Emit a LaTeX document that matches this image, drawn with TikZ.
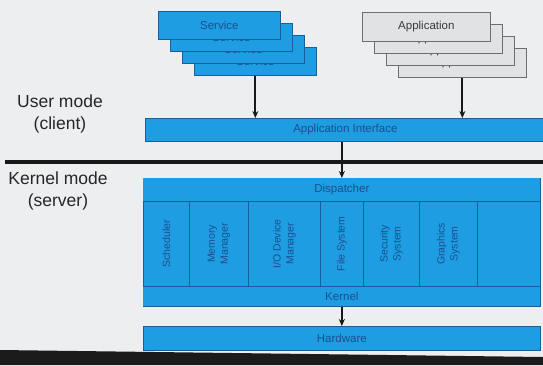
\documentclass[tikz,border=0pt]{standalone}
\usepackage{fontspec}
\setmainfont{Liberation Sans}
\usetikzlibrary{arrows.meta}
\definecolor{bg}{HTML}{EDEEEF}
\definecolor{blu}{HTML}{1E9DE3}
\definecolor{bluline}{HTML}{17609F}
\definecolor{blutext}{HTML}{1C4F8C}
\definecolor{grayfill}{HTML}{E1E2E4}
\definecolor{grayline}{HTML}{6E6E6E}
\definecolor{graytext}{HTML}{3A3A3A}
\definecolor{dark}{HTML}{1B1B1B}
\begin{document}
\begin{tikzpicture}[x=1pt,y=-1pt,
  boxfont/.style={font=\fontsize{11.5}{13}\selectfont},
  bluebox/.style={draw=bluline, fill=blu, line width=0.7pt, text=blutext, boxfont, inner sep=0pt, anchor=north west},
  graybox/.style={draw=grayline, fill=grayfill, line width=0.7pt, text=graytext, boxfont, inner sep=0pt, anchor=north west},
  modlabel/.style={rotate=90, text=blutext, align=center, font=\fontsize{10.5}{13}\selectfont, inner sep=0pt},
  modelabel/.style={align=center, font=\fontsize{17.5}{22}\selectfont, text=black!85},
  arr/.style={-{Stealth[length=7pt,width=6pt]}, line width=1.9pt, black!90}
]
% background and bounding box
\fill[bg] (0,0) rectangle (543,365);
\useasboundingbox (0,0) rectangle (543,365);
\fill[dark] (0,350) -- (543,357) -- (543,365) -- (0,365) -- cycle;

% Service stack (back to front)
\node[bluebox, minimum width=122pt, minimum height=28pt] (svc4) at (194,47) {Service};
\node[bluebox, minimum width=122pt, minimum height=28pt] (svc3) at (182,35) {Service};
\node[bluebox, minimum width=122pt, minimum height=28pt] (svc2) at (170,23) {Service};
\node[bluebox, minimum width=122pt, minimum height=28pt] (svc1) at (158,11) {Service};

% Application stack (back to front)
\node[graybox, minimum width=128pt, minimum height=29pt] (app4) at (398,48) {Application};
\node[graybox, minimum width=128pt, minimum height=29pt] (app3) at (386,36) {Application};
\node[graybox, minimum width=128pt, minimum height=29pt] (app2) at (374,24) {Application};
\node[graybox, minimum width=128pt, minimum height=29pt] (app1) at (362,12) {Application};

% Application interface
\node[bluebox, minimum width=400pt, minimum height=23pt] (api) at (145,118) {Application Interface};

% mode labels
\node[modelabel] (user) at (60,114) {User mode\\(client)};
\node[modelabel] (kmode) at (58,191) {Kernel mode\\(server)};

% separator line
\coordinate (sepL) at (5,162);
\coordinate (sepR) at (543,162);
\draw[line width=4pt, black!90] (sepL) -- (sepR);

% Kernel block
\node[bluebox, minimum width=397pt, minimum height=128pt] (kernel) at (143,178) {};
\node[bluebox, draw=none, minimum width=397pt, minimum height=23pt] (disp) at (143,178) {Dispatcher};
\node[bluebox, draw=none, minimum width=397pt, minimum height=20pt] (klabel) at (143,286) {Kernel};

% modules
\node[bluebox, minimum width=46pt, minimum height=85pt] (m1) at (143,201) {};
\node[bluebox, minimum width=59pt, minimum height=85pt] (m2) at (189,201) {};
\node[bluebox, minimum width=72pt, minimum height=85pt] (m3) at (248,201) {};
\node[bluebox, minimum width=43pt, minimum height=85pt] (m4) at (320,201) {};
\node[bluebox, minimum width=56pt, minimum height=85pt] (m5) at (363,201) {};
\node[bluebox, minimum width=58pt, minimum height=85pt] (m6) at (419,201) {};
\node[bluebox, minimum width=63pt, minimum height=85pt] (m7) at (477,201) {};
\node[modlabel] (l1) at (m1.center) {Scheduler};
\node[modlabel] (l2) at (m2.center) {Memory\\Manager};
\node[modlabel] (l3) at (m3.center) {I/O Device\\Manager};
\node[modlabel] (l4) at (m4.center) {File System};
\node[modlabel] (l5) at (m5.center) {Security\\System};
\node[modlabel] (l6) at (m6.center) {Graphics\\System};

% Hardware
\node[bluebox, minimum width=397pt, minimum height=24pt] (hw) at (143,326) {Hardware};

% arrows
\draw[arr] (svc4.south) -- (svc4.south |- api.north);
\draw[arr] (app4.south) -- (app4.south |- api.north);
\draw[arr] (api.south -| kernel.north) -- (kernel.north);
\draw[arr] (kernel.south) -- (kernel.south |- hw.north);
\end{tikzpicture}
\end{document}
